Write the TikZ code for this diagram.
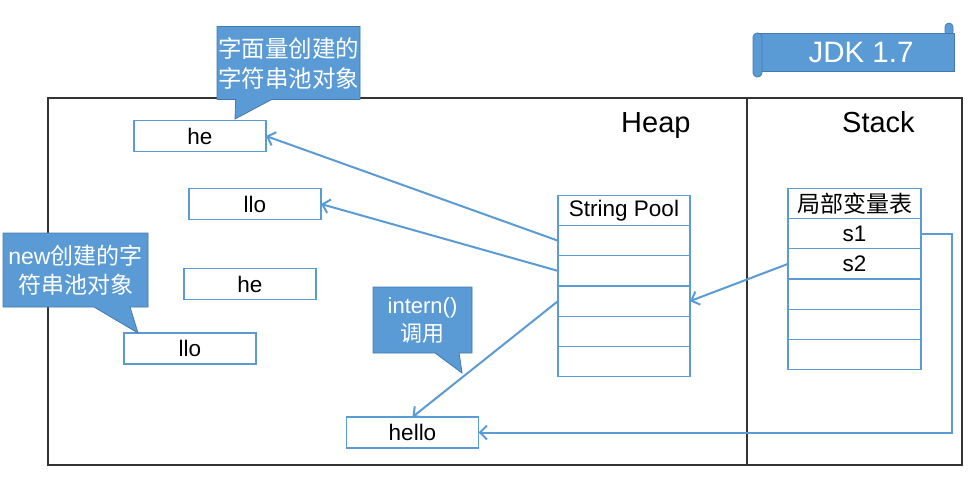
\documentclass[tikz,border=0pt]{standalone}
\usepackage{fontspec}
\setmainfont{Liberation Sans}
\newfontfamily\cjk{Noto Sans CJK SC}
\usetikzlibrary{shapes.callouts,arrows.meta}
\definecolor{lblue}{HTML}{5B9BD5}
\definecolor{dblue}{HTML}{4279B0}
\definecolor{framegray}{HTML}{333333}
\newcommand{\labfont}{\fontsize{22.5}{26}\selectfont}
\newcommand{\bigfont}{\fontsize{29}{33}\selectfont}
\begin{document}
\begin{tikzpicture}[x=1pt,y=-1pt,
  strbox/.style={draw=lblue, line width=1.3pt, fill=white, minimum width=132pt, minimum height=31pt, inner sep=0pt, outer sep=0pt, font=\labfont},
  cell/.style={draw=lblue, line width=1.3pt, fill=white, minimum width=132pt, minimum height=30.2pt, inner sep=0pt, outer sep=0pt, font=\labfont},
  bubble/.style={rectangle callout, fill=lblue, draw=dblue, line width=0.8pt, text=white, inner sep=0pt, align=center},
  arr/.style={draw=lblue, line width=2pt, -{Straight Barb[length=7pt,width=14pt,line width=2pt]}},
  frame/.style={draw=framegray, line width=1.3pt},
  roll/.style={fill=lblue, draw=dblue, line width=0.7pt, rounded corners=4pt}
]
\useasboundingbox (0,0) rectangle (969,484);
\fill[white] (0,0) rectangle (969,484);

% frame
\draw[frame] (48,98) rectangle (962,465);
\draw[frame] (747,98) -- (747,465);
\node[font=\bigfont, anchor=base west, inner sep=0pt] (heap) at (621,132) {Heap};
\node[font=\bigfont, anchor=base west, inner sep=0pt] (stack) at (842,132) {Stack};

% banner
\filldraw[roll] (945,36) rectangle (953,23);
\node[fill=lblue, draw=dblue, line width=0.6pt, minimum width=197pt, minimum height=38pt, inner sep=0pt] (jdk) at (855.5,52) {};
\filldraw[roll] (753,33) rectangle (762,77);
\node[text=white, font=\fontsize{29.5}{33}\selectfont] (jdkt) at (861,52) {JDK 1.7};

% heap string objects
\node[strbox] (he1) at (200,136) {he};
\node[strbox] (llo1) at (255,204) {llo};
\node[strbox] (he2) at (250,284) {he};
\node[strbox] (llo2) at (190,348.5) {llo};
\node[strbox] (hello) at (412.5,432.5) {hello};

% string pool
\node[cell] (ph) at (624,210.5) {String Pool};
\node[cell, anchor=north] (p1) at (ph.south) {};
\node[cell, anchor=north] (p2) at (p1.south) {};
\node[cell, anchor=north] (p3) at (p2.south) {};
\node[cell, anchor=north] (p4) at (p3.south) {};
\node[cell, anchor=north] (p5) at (p4.south) {};

% stack table
\node[cell, minimum width=133pt] (sh) at (854.5,203.5) {\cjk\fontsize{23}{26}\selectfont 局部变量表};
\node[cell, minimum width=133pt, anchor=north] (s1) at (sh.south) {s1};
\node[cell, minimum width=133pt, anchor=north] (s2) at (s1.south) {s2};
\node[cell, minimum width=133pt, anchor=north] (s3) at (s2.south) {};
\node[cell, minimum width=133pt, anchor=north] (s4) at (s3.south) {};
\node[cell, minimum width=133pt, anchor=north] (s5) at (s4.south) {};

% callouts
\node[bubble, minimum width=143pt, minimum height=73pt, callout absolute pointer={(235,119)}, callout pointer width=36pt, font=\cjk\fontsize{23.5}{30}\selectfont] (c1) at (288.5,63) {字面量创建的\\字符串池对象};
\node[bubble, minimum width=145pt, minimum height=74pt, callout absolute pointer={(138,333)}, callout pointer width=36pt, font=\fontsize{23}{29}\selectfont] (c2) at (75.5,270) {new{\cjk 创建的字}\\{\cjk 符串池对象}};
\node[bubble, minimum width=99pt, minimum height=66pt, callout absolute pointer={(462,373)}, callout pointer width=24pt, font=\fontsize{22}{28}\selectfont] (c3) at (422.5,320) {intern()\\{\cjk 调用}};

% connectors
\draw[arr] (p1.west) -- (he1.east);
\draw[arr] (p2.west) -- (llo1.east);
\draw[arr] (p3.west) -- (hello.north);
\draw[arr] (s2.west) -- (p3.east);
\coordinate (turn) at (952,330);
\draw[arr] (s1.east) -| (turn) |- (hello.east);
\end{tikzpicture}
\end{document}
